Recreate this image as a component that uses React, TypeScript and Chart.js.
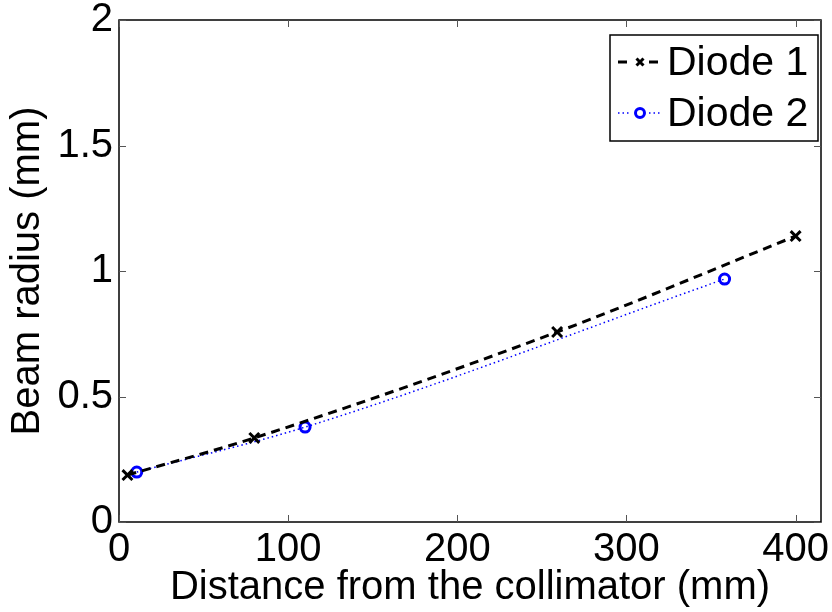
import React, { useEffect, useRef } from "react";
import { Chart, registerables } from "chart.js";

Chart.register(...registerables);

const diode1X = [5, 80, 259, 400];
const diode1Y = [0.187, 0.335, 0.757, 1.139];
const diode2X = [10.5, 110, 358];
const diode2Y = [0.199, 0.378, 0.968];
const xTicks = [0, 100, 200, 300, 400];
const yTicks = [0, 0.5, 1, 1.5, 2];
const seriesNames = ["Diode 1", "Diode 2"];

const FONT = "'Liberation Sans', Arial, Helvetica, sans-serif";

const boxAndTicks = {
  id: "boxAndTicks",
  afterDatasetsDraw(chart: any) {
    const { ctx, chartArea: a, scales } = chart;
    ctx.save();
    ctx.strokeStyle = "#000";
    ctx.lineWidth = 1.5;
    ctx.strokeRect(a.left, a.top, a.right - a.left, a.bottom - a.top);
    ctx.lineWidth = 1;
    ctx.strokeStyle = "#555";
    const L = 7;
    xTicks.forEach((v) => {
      const x = Math.round(scales.x.getPixelForValue(v)) + 0.5;
      ctx.beginPath();
      ctx.moveTo(x, a.bottom);
      ctx.lineTo(x, a.bottom - L);
      ctx.moveTo(x, a.top);
      ctx.lineTo(x, a.top + L);
      ctx.stroke();
    });
    yTicks.forEach((v) => {
      const y = Math.round(scales.y.getPixelForValue(v)) + 0.5;
      ctx.beginPath();
      ctx.moveTo(a.left, y);
      ctx.lineTo(a.left + L, y);
      ctx.moveTo(a.right, y);
      ctx.lineTo(a.right - L, y);
      ctx.stroke();
    });
    ctx.restore();
  },
  afterDraw(chart: any) {
    const { ctx, chartArea: a } = chart;
    const bx = a.right - 211;
    const by = a.top + 15;
    const bw = 208;
    const bh = 106;
    ctx.save();
    ctx.fillStyle = "#fff";
    ctx.fillRect(bx, by, bw, bh);
    ctx.strokeStyle = "#000";
    ctx.lineWidth = 1.5;
    ctx.strokeRect(bx, by, bw, bh);
    const rows = [by + 27, by + 78];
    chart.data.datasets.forEach((ds: any, i: number) => {
      const y = rows[i];
      ctx.save();
      ctx.strokeStyle = ds.borderColor;
      ctx.lineWidth = ds.borderWidth;
      ctx.setLineDash(ds.borderDash || []);
      ctx.beginPath();
      ctx.moveTo(bx + 8, y);
      ctx.lineTo(bx + 21, y);
      ctx.moveTo(bx + 39, y);
      ctx.lineTo(bx + 52, y);
      ctx.stroke();
      ctx.restore();
      ctx.save();
      ctx.strokeStyle = ds.pointBorderColor;
      ctx.lineWidth = ds.pointBorderWidth;
      if (ds.pointStyle === "crossRot") {
        const r = 3.5;
        ctx.beginPath();
        ctx.moveTo(bx + 30 - r, y - r);
        ctx.lineTo(bx + 30 + r, y + r);
        ctx.moveTo(bx + 30 - r, y + r);
        ctx.lineTo(bx + 30 + r, y - r);
        ctx.stroke();
      } else {
        ctx.lineWidth = 3;
        ctx.beginPath();
        ctx.arc(bx + 30, y, 4.5, 0, Math.PI * 2);
        ctx.stroke();
      }
      ctx.restore();
      ctx.fillStyle = "#000";
      ctx.font = `41px ${FONT}`;
      ctx.textBaseline = "middle";
      ctx.textAlign = "left";
      ctx.fillText(ds.label, bx + 57, y + 2);
    });
    ctx.restore();
  },
};

export default function App() {
  const ref = useRef<HTMLCanvasElement>(null);
  useEffect(() => {
    if (!ref.current) return;
    const chart = new Chart(ref.current, {
      type: "line",
      data: {
        datasets: [
          {
            label: seriesNames[0],
            data: diode1X.map((x, i) => ({ x, y: diode1Y[i] })),
            borderColor: "#000",
            borderWidth: 3,
            borderDash: [9, 6],
            pointStyle: "crossRot",
            pointRadius: 7,
            pointBorderWidth: 3,
            pointBorderColor: "#000",
            pointBackgroundColor: "rgba(0,0,0,0)",
            cubicInterpolationMode: "monotone",
            fill: false,
          },
          {
            label: seriesNames[1],
            data: diode2X.map((x, i) => ({ x, y: diode2Y[i] })),
            borderColor: "#0000ff",
            borderWidth: 1.5,
            borderDash: [1.5, 3],
            pointStyle: "circle",
            pointRadius: 5,
            pointBorderWidth: 3,
            pointBorderColor: "#0000ff",
            pointBackgroundColor: "rgba(255,255,255,0)",
            cubicInterpolationMode: "monotone",
            fill: false,
          },
        ] as any,
      },
      options: {
        animation: false,
        responsive: false,
        devicePixelRatio: 1,
        layout: { padding: { top: 20, right: 11, left: 0, bottom: 0 } },
        plugins: { legend: { display: false }, tooltip: { enabled: false } },
        scales: {
          x: {
            type: "linear",
            min: 0,
            max: 415,
            afterBuildTicks: (s: any) => {
              s.ticks = xTicks.map((v) => ({ value: v }));
            },
            afterFit: (s: any) => {
              s.height = 90;
              s.paddingLeft = 0;
              s.paddingRight = 0;
            },
            grid: { display: false, drawTicks: false },
            border: { display: false },
            ticks: {
              color: "#000",
              font: { family: FONT, size: 40 },
              padding: 4,
              maxRotation: 0,
              autoSkip: false,
              callback: (v: any) => String(v),
            },
            title: {
              display: true,
              text: "Distance from the collimator (mm)",
              color: "#000",
              font: { family: FONT, size: 40 },
              padding: { top: -8, bottom: 0 },
            },
          },
          y: {
            type: "linear",
            min: 0,
            max: 2,
            afterBuildTicks: (s: any) => {
              s.ticks = yTicks.map((v) => ({ value: v }));
            },
            afterFit: (s: any) => {
              s.width = 119;
              s.paddingTop = 0;
              s.paddingBottom = 0;
            },
            grid: { display: false, drawTicks: false },
            border: { display: false },
            ticks: {
              color: "#000",
              font: { family: FONT, size: 40 },
              padding: 6,
              autoSkip: false,
              callback: (v: any) => String(v),
            },
            title: {
              display: true,
              text: "Beam radius (mm)",
              color: "#000",
              font: { family: FONT, size: 40 },
              padding: { top: 4, bottom: 0 },
            },
          },
        },
      },
      plugins: [boxAndTicks],
    });
    return () => chart.destroy();
  }, []);
  return (
    <div style={{ position: "fixed", left: 0, top: 0, width: 832, height: 612, background: "#fff" }}>
      <canvas ref={ref} width={832} height={612} style={{ width: 832, height: 612 }} />
    </div>
  );
}
